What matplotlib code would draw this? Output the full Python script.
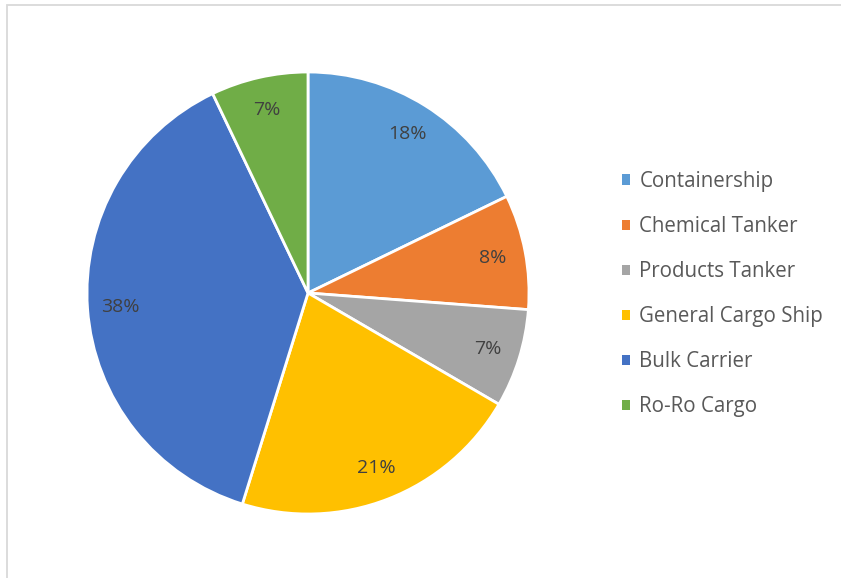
import matplotlib.pyplot as plt
from matplotlib.patches import Patch, Rectangle

# ship type shares (percent of fleet)
ship_types = ["Containership", "Chemical Tanker", "Products Tanker",
              "General Cargo Ship", "Bulk Carrier", "Ro-Ro Cargo"]
shares = [17.8, 8.4, 7.2, 21.4, 38.1, 7.1]
colors = ["#5B9BD5", "#ED7D31", "#A5A5A5", "#FFC000", "#4472C4", "#70AD47"]

plt.rcParams['font.family'] = ['Open Sans', 'DejaVu Sans']
text_col = "#595959"

fig = plt.figure(figsize=(8.41, 5.78), dpi=100)

# light frame around the chart area
fig.patches.append(Rectangle((7 / 841, -0.01), 1.2, (578 - 5) / 578 + 0.01,
                             transform=fig.transFigure, fill=False,
                             edgecolor="#D9D9D9", linewidth=1.3))

ax = fig.add_axes([87 / 841, 64 / 578, 442 / 841, 442 / 578])
wedges, texts, autotexts = ax.pie(
    shares, colors=colors, startangle=90, counterclock=False,
    autopct="%.0f%%", pctdistance=0.85,
    wedgeprops=dict(edgecolor="white", linewidth=2),
    textprops=dict(color="#404040", fontsize=14))
ax.set_xlim(-1, 1)
ax.set_ylim(-1, 1)

handles = [Patch(facecolor=c, edgecolor="none") for c in colors]
fig.legend(handles, ship_types, loc="upper left",
           bbox_to_anchor=(622 / 841, 1 - 171 / 578), frameon=False,
           borderpad=0, borderaxespad=0,
           fontsize=14.8, labelcolor=text_col, handlelength=0.4,
           handleheight=0.4, handletextpad=0.45, labelspacing=1.17)

fig.savefig("out.png", dpi=100)
